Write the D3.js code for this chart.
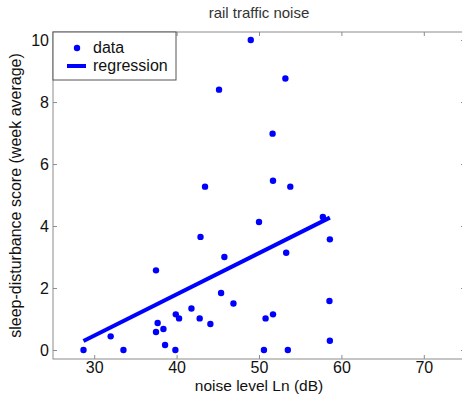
<!DOCTYPE html>
<html>
<head>
<meta charset="utf-8">
<script src="https://cdn.jsdelivr.net/npm/d3@7"></script>
<style>
  body { margin: 0; background: #fff; }
  svg { display: block; font-family: "Liberation Sans", Arial, sans-serif; }
</style>
</head>
<body>
<svg id="chart" width="462" height="403"></svg>
<script>
// measured data (noise level dB, sleep-disturbance score)
const noiseLevel = [28.7, 32.0, 33.55, 37.5, 37.7, 37.5, 38.4, 38.6, 39.85, 39.9,
    40.3, 41.8, 42.8, 44.1, 45.4, 46.9, 45.8, 42.9, 43.45, 45.15,
    49.0, 50.0, 51.7, 53.8, 53.2, 51.65, 57.75, 58.6, 53.3, 58.55,
    50.8, 51.7, 50.6, 53.5, 58.6];
const sleepScore = [0, 0.44, 0, 2.57, 0.87, 0.58, 0.68, 0.16, 0, 1.15,
    1.02, 1.34, 1.02, 0.84, 1.84, 1.5, 3.0, 3.65, 5.27, 8.4,
    10, 4.13, 5.46, 5.27, 8.76, 6.98, 4.29, 3.57, 3.14, 1.58,
    1.02, 1.15, 0, 0, 0.3];

// regression line end points
const regX = [28.7, 58.6];
const regY = [0.29, 4.27];

const xTicks = [30, 40, 50, 60, 70];
const yTicks = [0, 2, 4, 6, 8, 10];

const plotLeft = 53, plotRight = 465, plotTop = 32, plotBottom = 359;
const svg = d3.select('#chart');

const x = d3.scaleLinear().domain([25, 75]).range([plotLeft, plotRight]);
const y = d3.scaleLinear().domain([-0.29, 10.26]).range([plotBottom, plotTop]);

// title
svg.append('text')
    .attr('x', (plotLeft + plotRight) / 2)
    .attr('y', 18)
    .attr('text-anchor', 'middle')
    .attr('font-size', 15)
    .attr('fill', '#333')
    .text('rail traffic noise');

// axes box
const axisColor = '#8c8c8c';
svg.append('rect')
    .attr('x', plotLeft).attr('y', plotTop)
    .attr('width', plotRight - plotLeft).attr('height', plotBottom - plotTop)
    .attr('fill', 'none')
    .attr('stroke', axisColor);

// ticks, pointing inward on all four sides
const tickLen = 4;
const xAxisB = d3.axisBottom(x).tickValues(xTicks).tickSizeInner(-tickLen).tickSizeOuter(0).tickPadding(3);
const xAxisT = d3.axisTop(x).tickValues(xTicks).tickSizeInner(-tickLen).tickSizeOuter(0).tickFormat('');
const yAxisL = d3.axisLeft(y).tickValues(yTicks).tickSizeInner(-tickLen).tickSizeOuter(0).tickPadding(4);
const yAxisR = d3.axisRight(y).tickValues(yTicks).tickSizeInner(-tickLen).tickSizeOuter(0).tickFormat('');

function styleAxis(g) {
    g.select('.domain').remove();
    g.selectAll('line').attr('stroke', axisColor);
    g.selectAll('text').attr('font-size', 16).attr('fill', '#111')
        .attr('font-family', '"Liberation Sans", Arial, sans-serif');
}

svg.append('g').attr('transform', `translate(0,${plotBottom})`).call(xAxisB).call(styleAxis);
svg.append('g').attr('transform', `translate(0,${plotTop})`).call(xAxisT).call(styleAxis);
svg.append('g').attr('transform', `translate(${plotLeft},0)`).call(yAxisL).call(styleAxis);
svg.append('g').attr('transform', `translate(${plotRight},0)`).call(yAxisR).call(styleAxis);

// axis labels
svg.append('text')
    .attr('x', (plotLeft + plotRight) / 2)
    .attr('y', 391)
    .attr('text-anchor', 'middle')
    .attr('font-size', 15.5)
    .attr('fill', '#111')
    .text('noise level Ln (dB)');

svg.append('text')
    .attr('transform', `translate(21,${(plotTop + plotBottom) / 2}) rotate(-90)`)
    .attr('text-anchor', 'middle')
    .attr('font-size', 16)
    .attr('fill', '#111')
    .text('sleep-disturbance score (week average)');

// regression line
svg.append('line')
    .attr('x1', x(regX[0])).attr('y1', y(regY[0]))
    .attr('x2', x(regX[1])).attr('y2', y(regY[1]))
    .attr('stroke', '#0000ff')
    .attr('stroke-width', 4);

// data points
svg.append('g')
    .selectAll('circle')
    .data(noiseLevel.map((v, i) => [v, sleepScore[i]]))
    .enter()
    .append('circle')
    .attr('cx', d => x(d[0]))
    .attr('cy', d => y(d[1]))
    .attr('r', 3.2)
    .attr('fill', '#0000ff');

// legend
const legend = svg.append('g');
legend.append('rect')
    .attr('x', plotLeft).attr('y', plotTop)
    .attr('width', 123).attr('height', 48)
    .attr('fill', '#fff')
    .attr('stroke', '#555');
legend.append('circle')
    .attr('cx', 77).attr('cy', 48).attr('r', 3.2)
    .attr('fill', '#0000ff');
legend.append('line')
    .attr('x1', 67).attr('x2', 86)
    .attr('y1', 66).attr('y2', 66)
    .attr('stroke', '#0000ff')
    .attr('stroke-width', 4);
legend.append('text')
    .attr('x', 93).attr('y', 53)
    .attr('font-size', 16).attr('fill', '#111')
    .text('data');
legend.append('text')
    .attr('x', 93).attr('y', 71)
    .attr('font-size', 16).attr('fill', '#111')
    .text('regression');
</script>
</body>
</html>
